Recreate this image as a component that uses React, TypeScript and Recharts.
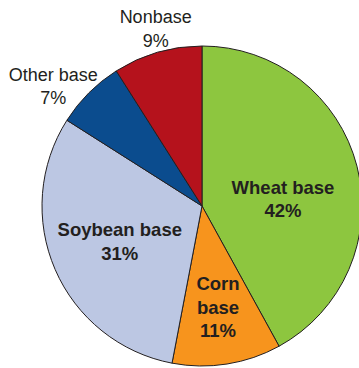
import React from 'react';
import { PieChart, Pie, Cell } from 'recharts';

const names = ['Wheat base', 'Corn base', 'Soybean base', 'Other base', 'Nonbase'];
const shares = [42, 11, 31, 7, 9];
const colors = ['#8DC63F', '#F7941D', '#BCC7E3', '#0B4C8E', '#B5121C'];

// how each label is broken into lines, and whether it sits inside the slice
const labelLines: Record<string, string[]> = {
  'Wheat base': ['Wheat base'],
  'Corn base': ['Corn', 'base'],
  'Soybean base': ['Soybean base'],
  'Other base': ['Other base'],
  Nonbase: ['Nonbase'],
};

const labelSpot: Record<string, { r: number; dx: number; dy: number; bold: boolean }> = {
  'Wheat base': { r: 0.5, dx: 3.5, dy: 13, bold: true },
  'Corn base': { r: 0.64, dx: 0, dy: 0, bold: true },
  'Soybean base': { r: 0.56, dx: 0, dy: 0, bold: true },
  'Other base': { r: 1.2, dx: -13, dy: 16, bold: false },
  Nonbase: { r: 1.15, dx: 5, dy: -1, bold: false },
};

const data = names.map((name, i) => ({ name, value: shares[i] }));

const RAD = Math.PI / 180;

const renderLabel = (props: any) => {
  const { cx, cy, midAngle, outerRadius, name, value } = props;
  const spot = labelSpot[name];
  const r = outerRadius * spot.r;
  const x = cx + r * Math.cos(-midAngle * RAD) + spot.dx;
  const y = cy + r * Math.sin(-midAngle * RAD) + spot.dy;
  const lines = [...labelLines[name], `${value}%`];
  const lh = 23.5;
  return (
    <text
      textAnchor="middle"
      fill="#231F20"
      fontFamily="'Liberation Sans', Arial, sans-serif"
      fontSize={spot.bold ? 18.5 : 18}
      fontWeight={spot.bold ? 700 : 400}
    >
      {lines.map((ln, i) => (
        <tspan key={i} x={x} y={y + (i - (lines.length - 1) / 2) * lh + 6.5}>
          {ln}
        </tspan>
      ))}
    </text>
  );
};

export default function App() {
  return (
    <div style={{ position: 'absolute', left: 0, top: 0, width: 359, height: 368, background: '#fff' }}>
      <PieChart width={359} height={368} margin={{ top: 0, right: 0, bottom: 0, left: 0 }}>
        <Pie
          data={data}
          dataKey="value"
          nameKey="name"
          cx={202}
          cy={206}
          outerRadius={160}
          startAngle={90}
          endAngle={-270}
          stroke="#231F20"
          strokeWidth={1}
          label={renderLabel}
          labelLine={false}
          isAnimationActive={false}
        >
          {data.map((d, i) => (
            <Cell key={d.name} fill={colors[i]} />
          ))}
        </Pie>
      </PieChart>
    </div>
  );
}
